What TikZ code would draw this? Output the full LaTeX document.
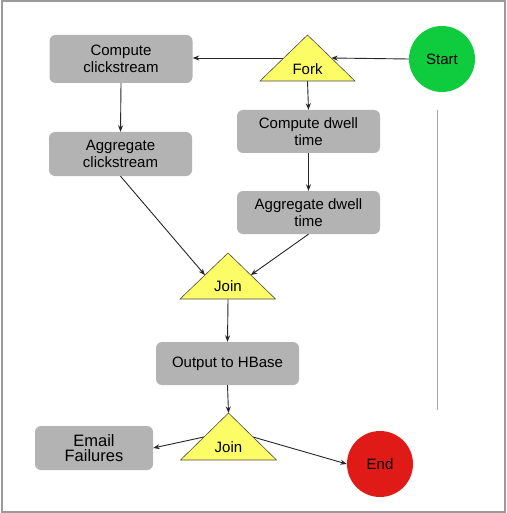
\documentclass[tikz,border=0pt]{standalone}
\usepackage{fontspec}
\setmainfont{Liberation Sans}
\usetikzlibrary{arrows.meta,calc}
\definecolor{boxgray}{HTML}{B3B3B3}
\definecolor{forkyellow}{HTML}{FCFC66}
\definecolor{startgreen}{HTML}{0FCB3E}
\definecolor{endred}{HTML}{E01B17}
\definecolor{framegray}{HTML}{9A9A9A}
\begin{document}
\begin{tikzpicture}[x=1pt,y=-1pt,
  every node/.style={font=\fontsize{15}{17}\selectfont, text=black, inner sep=0pt, align=center},
  task/.style={fill=boxgray, rounded corners=6pt, minimum width=143pt, minimum height=43pt},
  ctrl/.style={circle, minimum size=66pt},
  tri/.style={fill=forkyellow, draw=black!70, line width=0.6pt, line join=miter},
  conn/.style={draw=black!85, line width=0.9pt, -{Stealth[length=6.5pt,width=5pt]}},
  plain/.style={draw=black!85, line width=0.9pt}]
\useasboundingbox (0,0) rectangle (506,513);
\fill[white] (0,0) rectangle (506,513);
\draw[framegray, line width=2pt] (1.5,1.5) rectangle (504.5,511.5);
\draw[black!35, line width=1pt] (437,110) -- (437,410);

% tasks
\node[task, minimum height=48pt] (cc) at (121,59) {Compute\\clickstream};
\node[task, minimum height=44pt] (ac) at (120.5,154) {Aggregate\\clickstream};
\node[task] (cd) at (308.5,131.5) {Compute dwell\\time};
\node[task] (ad) at (308.5,212.5) {Aggregate dwell\\time};
\node[task] (out) at (227.5,363.5) {Output to HBase};
\node[task, minimum width=118pt, minimum height=44pt, font=\fontsize{16.5}{15}\selectfont] (email) at (94,448) {Email\\Failures};

% control nodes
\node[ctrl, fill=startgreen] (start) at (442,59) {Start};
\node[ctrl, fill=endred] (end) at (380,464) {End};

% Fork triangle
\coordinate (fA) at (307.5,35);
\coordinate (fL) at (260,81);
\coordinate (fR) at (355,81);
\coordinate (fB) at (307.5,81);
\coordinate (fRin) at ($(fA)!0.5!(fR)$);
\coordinate (fLin) at ($(fA)!0.5!(fL)$);
% Join 1
\coordinate (j1A) at (228,253);
\coordinate (j1L) at (180,299);
\coordinate (j1R) at (275.5,299);
\coordinate (j1B) at (228,299);
\coordinate (j1Lin) at ($(j1A)!0.48!(j1L)$);
\coordinate (j1Rin) at ($(j1A)!0.48!(j1R)$);
% Join 2
\coordinate (j2A) at (228.5,413);
\coordinate (j2L) at (180.5,460);
\coordinate (j2R) at (276.5,460);
\coordinate (j2Lin) at ($(j2A)!0.51!(j2L)$);
\coordinate (j2Rin) at ($(j2A)!0.51!(j2R)$);

% connectors (drawn beneath triangles)
\path[conn] (start.west) -- (fRin);
\path[plain] (fLin) -- (fLin -| fA);
\path[conn] (fLin) -- (cc.east |- fLin);
\path[conn] (fB) -- (cd.north);
\path[conn] (cc.south) -- (ac.north);
\path[conn] (cd.south) -- (ad.north);
\path[conn] (ac.south) -- (j1Lin);
\path[conn] (ad.south) -- (j1Rin);
\path[conn] (j1B) -- (out.north);
\path[conn] (out.south) -- (j2A);
\path[conn] (j2Lin) -- (email.east);
\path[conn] (j2Rin) -- (end.west);

% triangles
\draw[tri] (fA) -- (fR) -- (fL) -- cycle;
\draw[tri] (j1A) -- (j1R) -- (j1L) -- cycle;
\draw[tri] (j2A) -- (j2R) -- (j2L) -- cycle;
\node (fork) at (307.5,69) {Fork};
\node (join1) at (228,286) {Join};
\node (join2) at (228.5,447) {Join};
\end{tikzpicture}
\end{document}
